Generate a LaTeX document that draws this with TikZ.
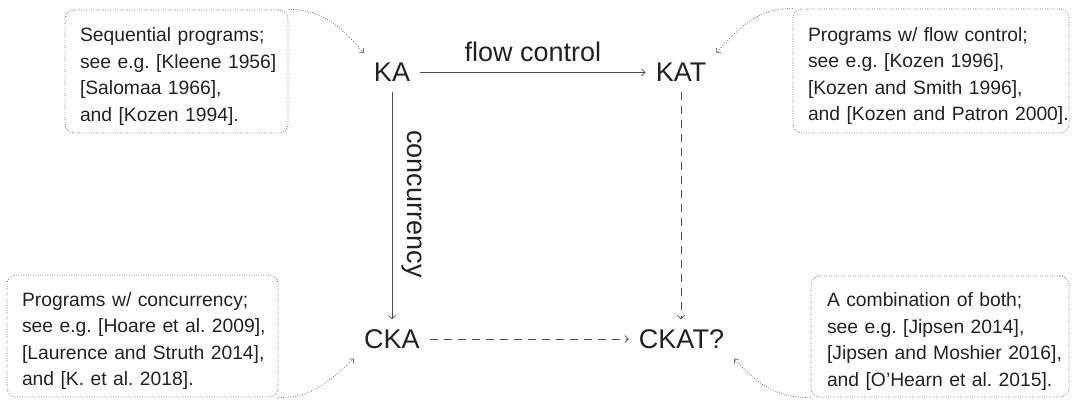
\documentclass[tikz,border=0pt]{standalone}
\usepackage{fontspec}
\setmainfont{Liberation Sans}
\usetikzlibrary{arrows.meta}
\newcommand{\toppad}{\rule{0pt}{24pt}}
\begin{document}
\frenchspacing
\begin{tikzpicture}[x=1pt,y=-1pt,
  main/.style={font=\fontsize{27}{32}\selectfont, text=black!87, text height=19pt, text depth=0pt, inner sep=10pt},
  lbl/.style={font=\fontsize{27}{32}\selectfont, text=black!87, inner sep=0pt},
  note/.style={draw=black!60, line width=0.75pt, dash pattern=on 0.8pt off 1.6pt, rounded corners=9pt, align=left,
    font=\fontsize{19.3}{26.5}\selectfont\frenchspacing, text=black!87, inner xsep=15pt, inner ysep=0pt},
  arr/.style={draw=black!70, line width=0.7pt, -{Straight Barb[length=3.5pt,width=7pt]}},
  dasharr/.style={arr, dash pattern=on 8pt off 6pt},
  dotarr/.style={draw=black!60, line width=0.75pt, dash pattern=on 0.8pt off 1.6pt, -{Straight Barb[length=3pt,width=6pt]}}
  ]
\useasboundingbox (0,0) rectangle (1072,401);

\node[main] (KA) at (392,72.5) {KA};
\node[main] (KAT) at (681,72.5) {KAT};
\node[main] (CKA) at (392,339) {CKA};
\node[main] (CKAT) at (681.5,339) {CKAT?};

\draw[arr] (KA) -- (KAT);
\draw[arr] (KA.south) -- (KA.south |- CKA.north);
\draw[dasharr] (KAT.south) -- (KAT.south |- CKAT.north);
\draw[dasharr] (CKA) -- (CKAT);

\node[lbl, anchor=base] (fc) at (533,62) {flow control};
\node[lbl, anchor=base, rotate=-90] (cc) at (407,204) {concurrency};

\node[note, text width=193pt, minimum height=123pt] (n1) at (176.5,71.5)
  {\toppad\mbox{Sequential programs;}\\\mbox{see e.g. [Kleene 1956]}\\\mbox{[Salomaa 1966],}\\\mbox{and [Kozen 1994].}};
\node[note, text width=246pt, minimum height=124pt] (n2) at (931,71)
  {\toppad\mbox{Programs w/ flow control;}\\\mbox{see e.g. [Kozen 1996],}\\\mbox{[Kozen and Smith 1996],}\\\mbox{and [Kozen and Patron 2000].}};
\node[note, text width=241pt, minimum height=122pt] (n3) at (142.5,336)
  {\toppad\mbox{Programs w/ concurrency;}\\\mbox{see e.g. [Hoare et al. 2009],}\\\mbox{[Laurence and Struth 2014],}\\\mbox{and [K. et al. 2018].}};
\node[note, text width=226pt, inner xsep=16pt, minimum height=121pt] (n4) at (940,336.5)
  {\toppad\mbox{A combination of both;}\\\mbox{see e.g. [Jipsen 2014],}\\\mbox{[Jipsen and Moshier 2016],}\\\mbox{and [O'Hearn et al. 2015].}};

\draw[dotarr] (n1.north east) to[out=2,in=132] (KA.north west);
\draw[dotarr] (n2.north west) to[out=178,in=48] (KAT.north east);
\draw[dotarr] (n3.south east) to[out=-2,in=-138] (CKA.south west);
\draw[dotarr] (n4.south west) to[out=182,in=-48] (CKAT.south east);
\end{tikzpicture}
\end{document}
